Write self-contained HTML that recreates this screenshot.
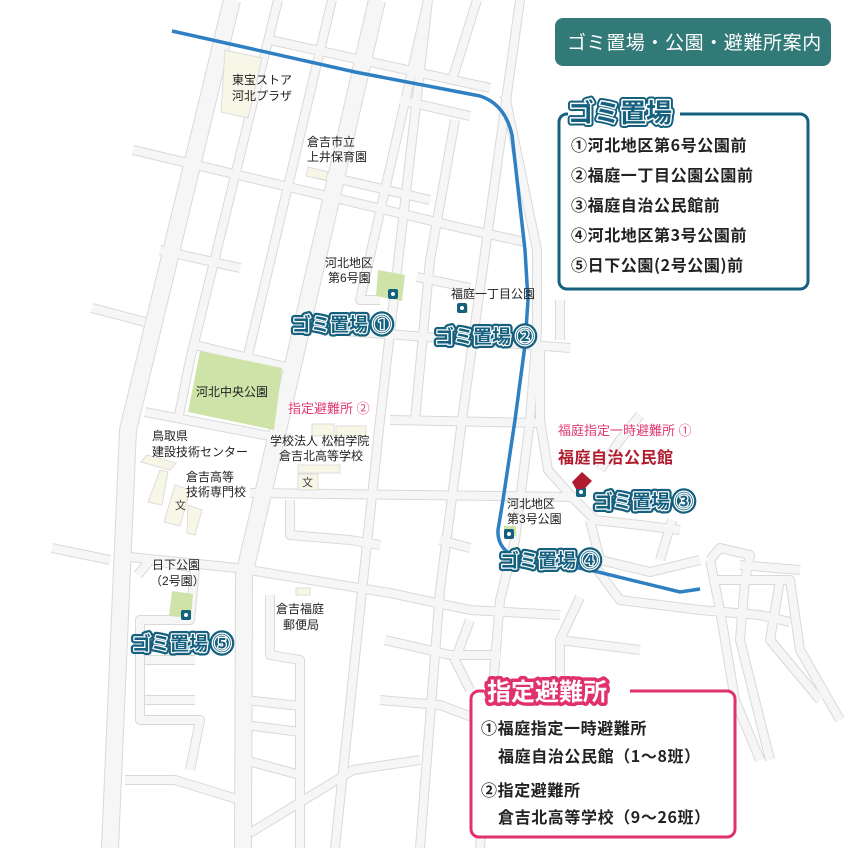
<!DOCTYPE html>
<html><head><meta charset="utf-8"><style>
html,body{margin:0;padding:0;background:#fff;}
svg{display:block;font-family:"Liberation Sans","Noto Sans CJK JP",sans-serif;}
.rb{fill:none;stroke:#d9d9d9;stroke-linejoin:round;stroke-linecap:butt}
.rf{fill:none;stroke:#f6f6f6;stroke-linejoin:round;stroke-linecap:butt}
.lbl{font-size:12px;fill:#222;}
.g1{font-family:"Noto Sans CJK JP",sans-serif;font-size:19px;font-weight:bold;fill:#15607e;stroke:#15607e;stroke-width:7;stroke-linejoin:round}
.g2{font-family:"Noto Sans CJK JP",sans-serif;font-size:19px;font-weight:bold;fill:#15607e;stroke:#fff;stroke-width:2.5;paint-order:stroke;stroke-linejoin:round}
.it{font-family:"Noto Sans CJK JP",sans-serif;font-size:16px;font-weight:bold;fill:#222;letter-spacing:0.6px}
</style></head><body>
<svg width="852" height="848" viewBox="0 0 852 848">
<defs>
<g id="wide">
<path d="M232,0 L128,430 L110,848"/>
<path d="M377,0 L285,400 L244,575 L243,848"/>
</g>
<g id="thin">
<path d="M278,0 L190,360 L178,420"/>
<path d="M332,0 L248,355 L235,420"/>
<path d="M428,0 L360,300 L380,300 M428,0 L380,420 L335,848"/>
<path d="M520,0 L477,310 L462,420 L440,590 L420,848"/>
<path d="M477,0 L453,77"/>
<path d="M505,95 L537,250 L537,330 L530,420 L515,540 L500,600 L480,848"/>
<path d="M270,40 L430,75 L490,88"/>
<path d="M133,150 L470,230 L525,242"/>
<path d="M92,308 L145,322"/>
<path d="M195,345 L290,368"/>
<path d="M330,330 L400,335 L570,348"/>
<path d="M145,412 L290,440"/>
<path d="M390,420 L540,423"/>
<path d="M250,493 L580,497"/>
<path d="M52,548 L110,560 M130,557 L237,568 L390,593 L470,610 L560,615"/>
<path d="M313,173 L430,200"/>
<path d="M400,100 L470,116"/>
<path d="M417,277 L470,288"/>
<path d="M160,250 L240,268"/>
<path d="M455,120 L430,260 L415,420"/>
<path d="M560,300 L560,340 M540,350 L540,420 L548,470 L575,500 L595,520 L640,525 L680,530"/>
<path d="M640,415 L620,440 L600,470"/>
<path d="M590,520 L600,560 L650,572 L700,560"/>
<path d="M590,560 L620,600 L700,610 L760,615 L790,622"/>
<path d="M672,520 L660,560"/>
<path d="M710,560 L720,548 L750,555 L745,580 L740,640 L760,720 L770,760"/>
<path d="M710,560 L720,610 L735,700 L760,760"/>
<path d="M740,565 L800,570"/>
<path d="M710,580 L790,580 L800,650 L840,720"/>
<path d="M780,580 L770,640 L820,700"/>
<path d="M580,597 L560,640 L560,680"/>
<path d="M290,500 L290,535 L350,540 L380,545"/>
<path d="M138,575 L150,560 L195,568 L190,620 L140,620 L140,720 L200,720 L190,770"/>
<path d="M145,660 L195,660 M145,700 L195,700"/>
<path d="M125,780 L175,780 L240,800"/>
<path d="M270,595 L270,655 L300,660 L300,848"/>
<path d="M245,700 L300,706 M245,725 L300,732 M245,760 L300,775"/>
<path d="M250,833 L353,770 L420,760"/>
<path d="M380,700 L440,705 L480,720"/>
<path d="M385,640 L450,655 L500,655"/>
<path d="M470,620 L455,660 L470,690"/>
<path d="M440,540 L470,548"/>
<path d="M560,640 L640,650"/>
</g>
</defs>
<g class="rb" stroke-width="18"><use href="#wide"/></g>
<g class="rb" stroke-width="10"><use href="#thin"/></g>
<g class="rf" stroke-width="16"><use href="#wide"/></g>
<g class="rf" stroke-width="8"><use href="#thin"/></g>

<path d="M172,31 L355,72 L480,96 Q505,104 512,135 L525,250 L528,300 L525,345 L515,420 L503,500 L498,530 Q497,548 515,557 L590,570 L680,592 L700,589" fill="none" stroke="#2f7fc3" stroke-width="3.5"/>

<polygon points="200,351 282,368 274,430 188,412" fill="#cde3a8"/>
<polygon points="378,270 405,275 402,301 376,296" fill="#cde3a8"/>
<polygon points="172,591 193,594 191,618 169,616" fill="#cde3a8"/>
<rect x="458" y="305" width="10" height="8" fill="#cde3a8"/>
<rect x="504" y="526" width="12" height="10" fill="#cde3a8"/>

<g fill="#f8f6e6" stroke="#ddd" stroke-width="1">
<polygon points="225,50 262,58 248,118 221,112"/>
<polygon points="308,167 328,172 326,180 306,176"/>
<rect x="312" y="424" width="22" height="12"/><rect x="336" y="426" width="30" height="10"/>
<rect x="298" y="465" width="42" height="8"/>
<rect x="298" y="474" width="20" height="16"/>
<polygon points="147,455 176,463 170,470 141,462"/>
<polygon points="160,470 168,472 162,505 148,502"/>
<polygon points="175,485 190,490 180,526 164,522"/>
<polygon points="188,505 202,510 195,535 187,533"/>
<rect x="296" y="588" width="14" height="7"/>
</g>
<text x="302" y="486" font-size="11" fill="#444">文</text>
<text x="175" y="509" font-size="11" fill="#444">文</text>

<g fill="#15607e"><rect x="388" y="289" width="10" height="10" rx="2"/><rect x="457" y="303" width="10" height="10" rx="2"/><rect x="576" y="487" width="10" height="10" rx="2"/><rect x="504" y="529" width="10" height="10" rx="2"/><rect x="181" y="610" width="10" height="10" rx="2"/></g>
<g fill="#fff"><circle cx="393" cy="294" r="2"/><circle cx="462" cy="308" r="2"/><circle cx="581" cy="492" r="2"/><circle cx="509" cy="534" r="2"/><circle cx="186" cy="615" r="2"/></g>
<polygon points="572,482 582,472 592,481 584,489 576,489" fill="#b01c2e"/>

<g class="lbl">
<text x="232" y="84">東宝ストア</text><text x="232" y="100">河北プラザ</text>
<text x="307" y="146">倉吉市立</text><text x="307" y="161">上井保育園</text>
<text x="325" y="267">河北地区</text><text x="328" y="282">第6号園</text>
<text x="451" y="298">福庭一丁目公園</text>
<text x="196" y="396">河北中央公園</text>
<text x="152" y="440">鳥取県</text><text x="152" y="456">建設技術センター</text>
<text x="270" y="445">学校法人 松柏学院</text><text x="279" y="460">倉吉北高等学校</text>
<text x="186" y="481">倉吉高等</text><text x="186" y="496">技術専門校</text>
<text x="507" y="508">河北地区</text><text x="507" y="523">第3号公園</text>
<text x="152" y="569">日下公園</text><text x="150" y="585">（2号園）</text>
<text x="276" y="613">倉吉福庭</text><text x="283" y="629">郵便局</text>
</g>
<text x="288" y="413" font-size="13" fill="#e03a75" stroke="#fff" stroke-width="2" paint-order="stroke">指定避難所 ②</text>
<text x="558" y="435" font-size="13" fill="#e03a75" stroke="#fff" stroke-width="2" paint-order="stroke">福庭指定一時避難所 ①</text>
<text x="558" y="463" font-size="16" font-weight="bold" fill="#b01c2e" letter-spacing="0.5">福庭自治公民館</text>

<text class="g1" x="292" y="331">ゴミ置場 ①</text><text class="g2" x="292" y="331">ゴミ置場 ①</text>
<text class="g1" x="435" y="343">ゴミ置場 ②</text><text class="g2" x="435" y="343">ゴミ置場 ②</text>
<text class="g1" x="594" y="508">ゴミ置場 ③</text><text class="g2" x="594" y="508">ゴミ置場 ③</text>
<text class="g1" x="500" y="567">ゴミ置場 ④</text><text class="g2" x="500" y="567">ゴミ置場 ④</text>
<text class="g1" x="132" y="650">ゴミ置場 ⑤</text><text class="g2" x="132" y="650">ゴミ置場 ⑤</text>

<rect x="555" y="18" width="276" height="48" rx="8" fill="#317a78"/>
<text x="567" y="49" font-size="19" fill="#fff" letter-spacing="0.6">ゴミ置場・公園・避難所案内</text>

<rect x="559" y="114" width="249" height="175" rx="8" fill="#fff" stroke="#15607e" stroke-width="3"/>
<rect x="568" y="100" width="112" height="26" fill="#fff"/>
<text x="568" y="122" font-size="26" font-weight="bold" fill="#15607e" stroke="#15607e" stroke-width="7" stroke-linejoin="round">ゴミ置場</text>
<text x="568" y="122" font-size="26" font-weight="bold" fill="#15607e" stroke="#fff" stroke-width="3" paint-order="stroke" stroke-linejoin="round">ゴミ置場</text>
<g class="it">
<text x="571" y="151">①河北地区第6号公園前</text>
<text x="571" y="181">②福庭一丁目公園公園前</text>
<text x="571" y="211">③福庭自治公民館前</text>
<text x="571" y="241">④河北地区第3号公園前</text>
<text x="571" y="271">⑤日下公園(2号公園)前</text>
</g>

<rect x="471" y="691" width="264" height="146" rx="8" fill="#fff" stroke="#e0306e" stroke-width="3"/>
<rect x="484" y="680" width="146" height="24" fill="#fff"/>
<text x="487" y="700" font-size="24" font-weight="bold" fill="#fff" stroke="#e0306e" stroke-width="7" stroke-linejoin="round">指定避難所</text>
<text x="487" y="700" font-size="24" font-weight="bold" fill="#fff">指定避難所</text>
<g class="it">
<text x="481" y="734">①福庭指定一時避難所</text>
<text x="498" y="762">福庭自治公民館（1～8班）</text>
<text x="481" y="796">②指定避難所</text>
<text x="498" y="823">倉吉北高等学校（9～26班）</text>
</g>
</svg>
</body></html>
